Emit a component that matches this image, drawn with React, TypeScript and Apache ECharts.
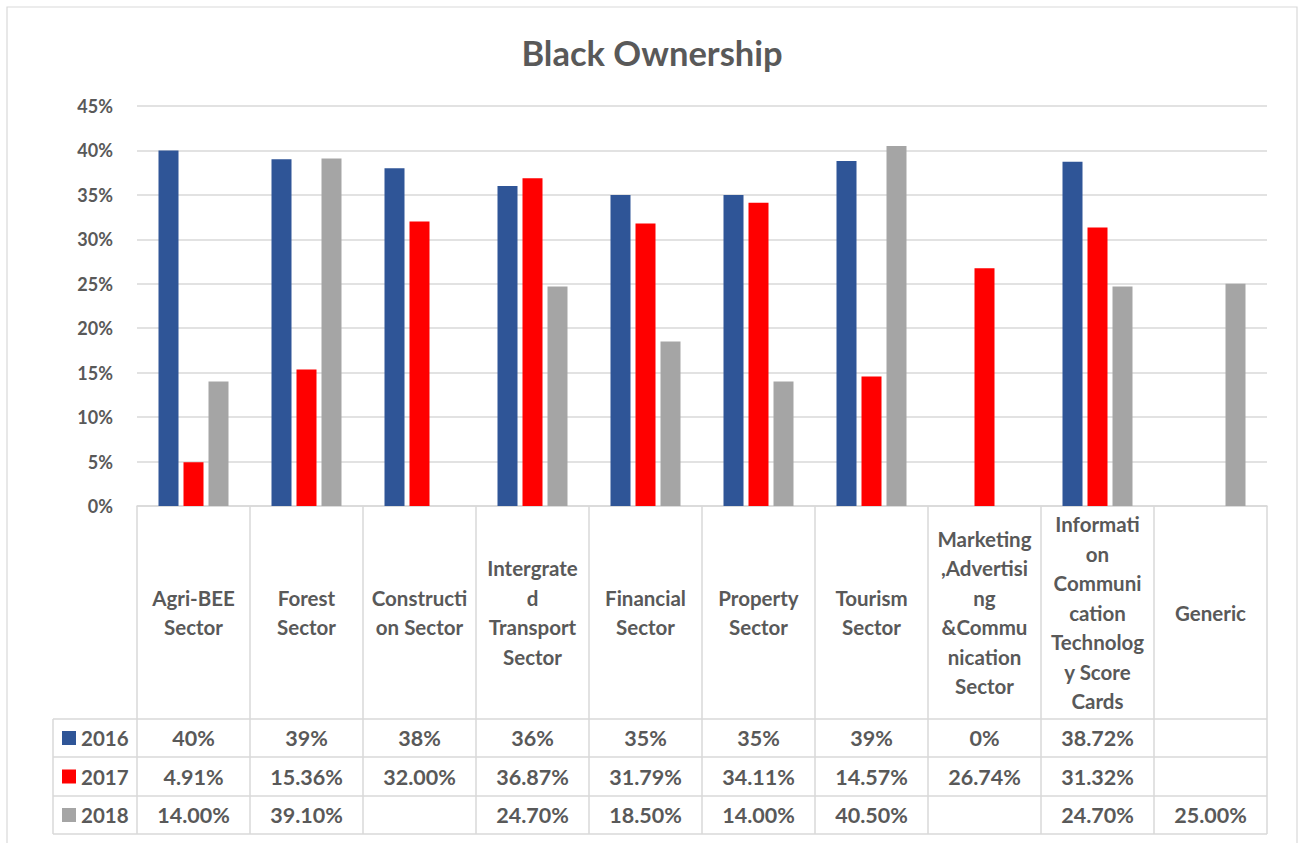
import React, { useEffect, useRef } from "react";
import * as echarts from "echarts";

const categories = [
  "Agri-BEE\nSector",
  "Forest\nSector",
  "Constructi\non Sector",
  "Intergrate\nd\nTransport\nSector",
  "Financial\nSector",
  "Property\nSector",
  "Tourism\nSector",
  "Marketing\n,Advertisi\nng\n&Commu\nnication\nSector",
  "Informati\non\nCommuni\ncation\nTechnolog\ny Score\nCards",
  "Generic",
];
const seriesNames = ["2016", "2017", "2018"];
const values2016: (number | null)[] = [40, 39, 38, 36, 35, 35, 38.8, 0, 38.72, null];
const values2017: (number | null)[] = [4.91, 15.36, 32.0, 36.87, 31.79, 34.11, 14.57, 26.74, 31.32, null];
const values2018: (number | null)[] = [14.0, 39.1, null, 24.7, 18.5, 14.0, 40.5, null, 24.7, 25.0];
const decimals2016 = [0, 0, 0, 0, 0, 0, 0, 0, 2, 0];
const decimals2017 = [2, 2, 2, 2, 2, 2, 2, 2, 2, 2];
const decimals2018 = [2, 2, 2, 2, 2, 2, 2, 2, 2, 2];
const yTicks = { min: 0, max: 45, interval: 5 };
const colors = ["#2F5597", "#FF0000", "#A5A5A5"];

const W = 1304;
const H = 843;
const FONT = "Lato, 'Open Sans', sans-serif";
const TEXT = "#595959";
const LINE = "#D9D9D9";

export default function App() {
  const ref = useRef<HTMLDivElement>(null);
  useEffect(() => {
    if (!ref.current) return;
    const chart = echarts.init(ref.current, null, { renderer: "svg" });

    const gridLeft = 137;
    const gridRight = 1267;
    const gridTop = 106;
    const gridBottomY = 506;
    const tableLeft = 53;
    const rowLines = [719, 757, 796, 834];
    const n = categories.length;
    const colW = (gridRight - gridLeft) / n;
    const catFont = 20.5;
    const tableFont = 21.5;

    const allValues = [values2016, values2017, values2018];
    const allDec = [decimals2016, decimals2017, decimals2018];
    const rowStrings = allValues.map((arr, s) =>
      arr.map((v, i) => (v === null ? "" : `${v.toFixed(allDec[s][i])}%`))
    );

    const lineStyle = { stroke: LINE, lineWidth: 1.5 };
    const graphics: any[] = [];
    graphics.push({
      type: "rect",
      shape: { x: 7, y: 7, width: 1290, height: 860 },
      style: { fill: "none", stroke: LINE, lineWidth: 1.2 },
      silent: true,
    });
    for (let i = 0; i <= n; i++) {
      const x = gridLeft + colW * i;
      graphics.push({
        type: "line",
        shape: { x1: x, y1: gridBottomY, x2: x, y2: rowLines[rowLines.length - 1] },
        style: lineStyle,
        silent: true,
      });
    }
    graphics.push({
      type: "line",
      shape: { x1: tableLeft, y1: rowLines[0], x2: tableLeft, y2: rowLines[rowLines.length - 1] },
      style: lineStyle,
      silent: true,
    });
    rowLines.forEach((y) =>
      graphics.push({
        type: "line",
        shape: { x1: tableLeft, y1: y, x2: gridRight, y2: y },
        style: lineStyle,
        silent: true,
      })
    );

    const rowCenters = rowLines.slice(0, 3).map((y, i) => (y + rowLines[i + 1]) / 2);
    const catCenter = (gridBottomY + rowLines[0]) / 2;

    const tableAxes = rowStrings.map((row, i) => ({
      type: "category",
      data: row,
      position: "bottom",
      offset: rowCenters[i] - gridBottomY,
      axisLine: { show: false },
      axisTick: { show: false },
      splitLine: { show: false },
      axisLabel: {
        interval: 0,
        margin: 0,
        verticalAlign: "middle",
        color: TEXT,
        fontFamily: FONT,
        fontWeight: "bold",
        fontSize: tableFont,
      },
    }));

    const legendLH = 22;

    chart.setOption({
      animation: false,
      backgroundColor: "#fff",
      title: {
        text: "Black Ownership",
        left: "center",
        top: 30,
        textStyle: { color: TEXT, fontFamily: FONT, fontWeight: "bold", fontSize: 34.5 },
      },
      legend: {
        orient: "vertical",
        left: 62,
        top: rowCenters[0] - legendLH / 2,
        padding: 0,
        itemGap: rowCenters[1] - rowCenters[0] - legendLH,
        itemWidth: 14,
        itemHeight: 14,
        icon: "rect",
        data: seriesNames,
        textStyle: {
          color: TEXT,
          fontFamily: FONT,
          fontWeight: "bold",
          fontSize: catFont,
          lineHeight: legendLH,
        },
      },
      grid: {
        left: gridLeft,
        right: W - gridRight,
        top: gridTop,
        bottom: H - gridBottomY,
        containLabel: false,
      },
      xAxis: [
        {
          type: "category",
          data: categories,
          axisLine: { show: true, lineStyle: { color: LINE, width: 1.5 } },
          axisTick: { show: false },
          axisLabel: {
            interval: 0,
            margin: catCenter - gridBottomY,
            verticalAlign: "middle",
            align: "center",
            color: TEXT,
            fontFamily: FONT,
            fontWeight: "bold",
            fontSize: catFont,
            lineHeight: 29.5,
          },
        },
        ...tableAxes,
      ],
      yAxis: {
        type: "value",
        min: yTicks.min,
        max: yTicks.max,
        interval: yTicks.interval,
        axisLine: { show: false },
        axisTick: { show: false },
        splitLine: { lineStyle: { color: LINE, width: 1.5 } },
        axisLabel: {
          formatter: (v: number) => `${v}%`,
          margin: 24,
          color: TEXT,
          fontFamily: FONT,
          fontWeight: "bold",
          fontSize: 18,
        },
      },
      series: allValues.map((arr, s) => ({
        name: seriesNames[s],
        type: "bar",
        xAxisIndex: 0,
        data: arr,
        barWidth: 20,
        barGap: "25%",
        itemStyle: { color: colors[s] },
      })),
      graphic: graphics,
    });
    return () => chart.dispose();
  }, []);
  return (
    <div
      ref={ref}
      style={{ position: "fixed", left: 0, top: 0, width: W, height: H }}
    />
  );
}
